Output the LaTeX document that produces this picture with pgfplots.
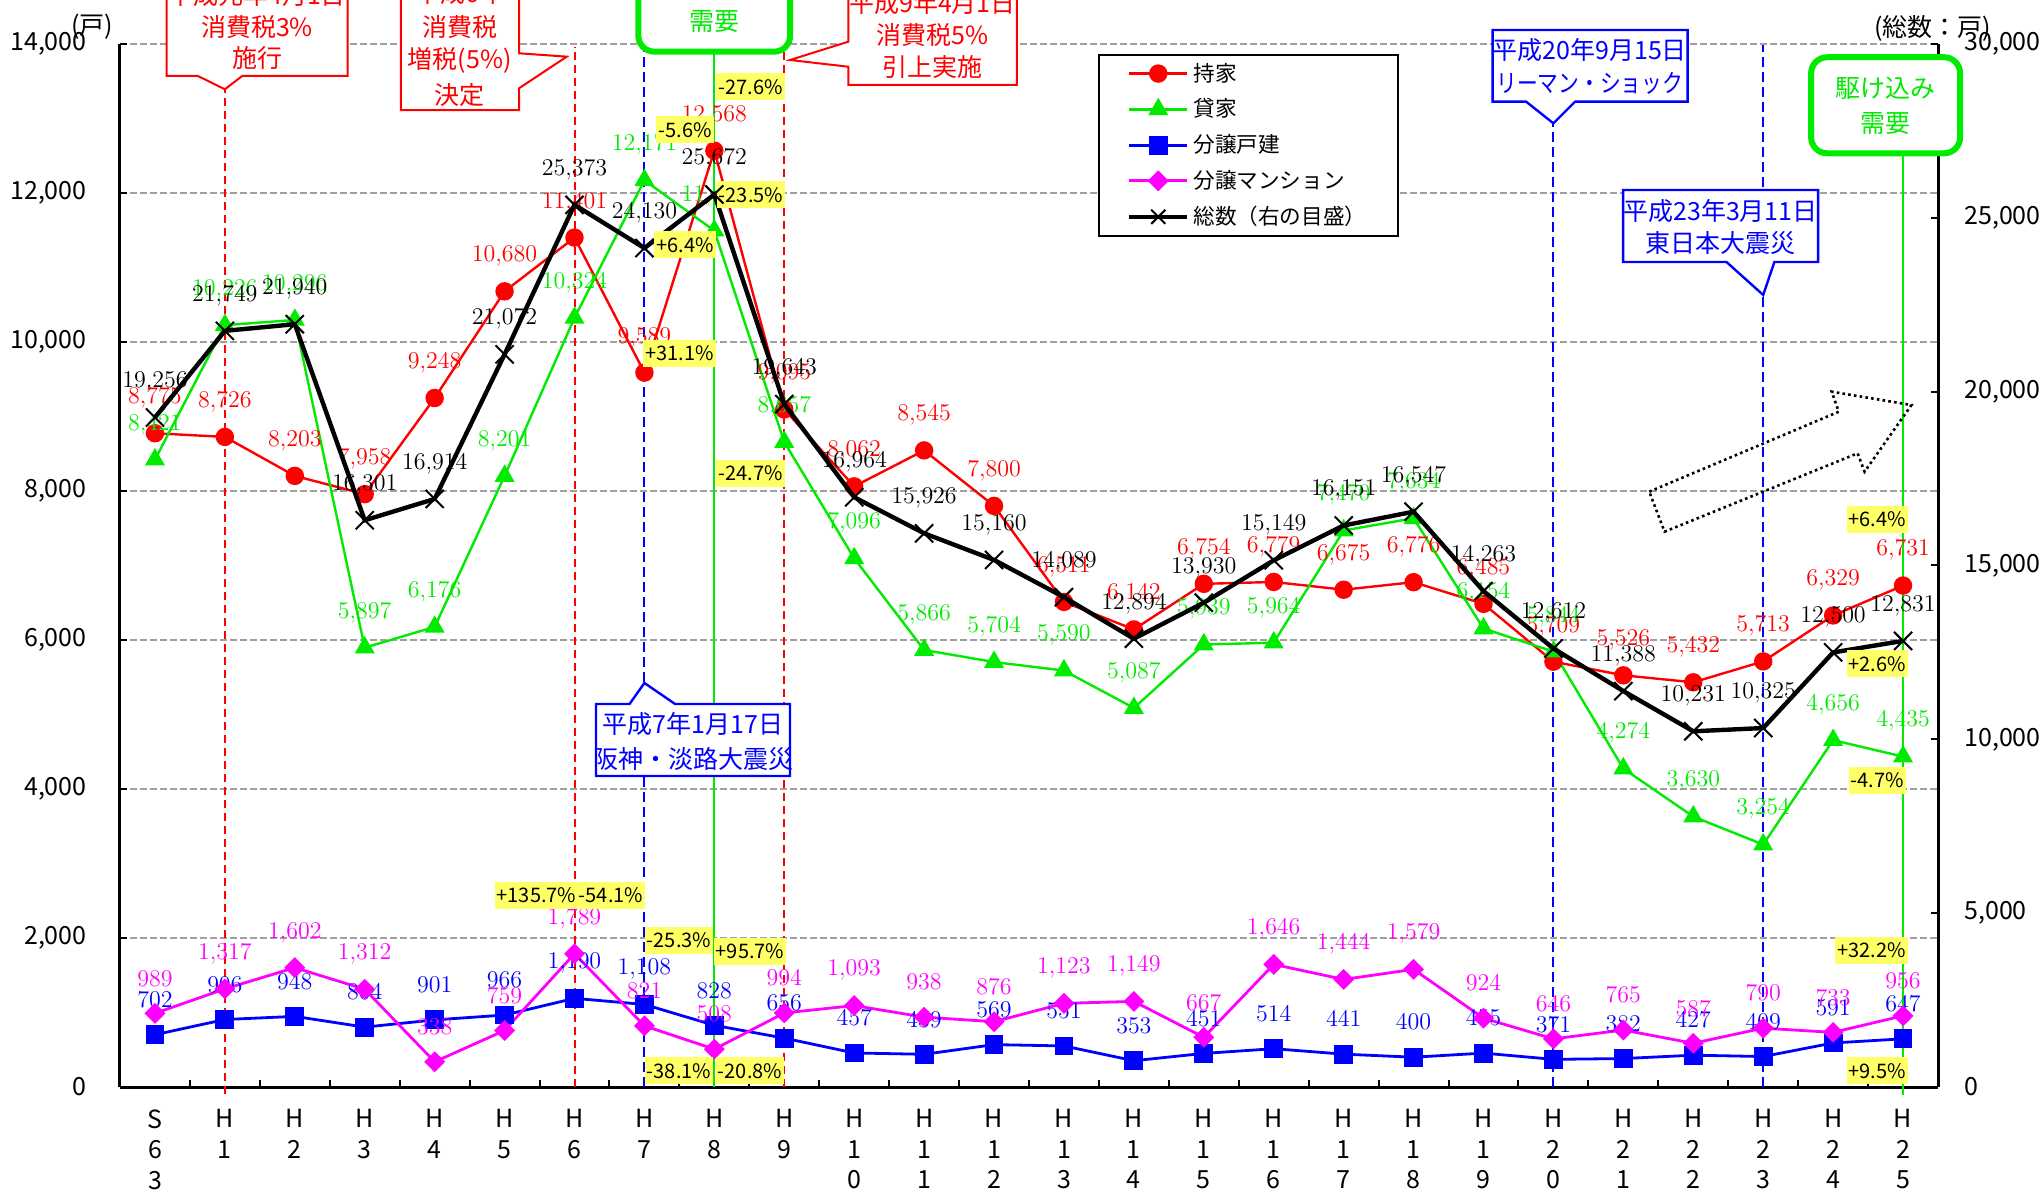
\documentclass[border=0pt]{standalone}
\usepackage{fontspec}
\usepackage{graphicx}
\usepackage{pgfplots}
\pgfplotsset{compat=1.18}
\newfontfamily\jp{Noto Sans CJK JP}

\definecolor{cred}{RGB}{255,0,0}
\definecolor{cgreen}{RGB}{0,235,0}
\definecolor{cblue}{RGB}{0,0,255}
\definecolor{cmag}{RGB}{255,0,255}
\definecolor{cgrid}{RGB}{160,160,160}
\definecolor{cyel}{RGB}{255,255,102}

\newcommand\tickfont{\jp\fontsize{12.5}{15.3}\selectfont}
\newcommand\callfont{\jp\fontsize{12.5}{12.5}\selectfont}
\newcommand\legfont{\jp\fontsize{10.8}{10.8}\selectfont}
\newcommand\yelfont{\jp\fontsize{10}{10}\selectfont}
\newcommand\lblfont{\fontsize{13}{13}\selectfont}

% data, S63 = 0, H1 = 1, ... H25 = 25
\pgfplotstableread{
x own rent house mansion total
0  8775  8421  702  989 19256
1  8726 10226  906 1317 21749
2  8203 10296  948 1602 21940
3  7958  5897  804 1312 16301
4  9248  6176  901  338 16914
5 10680  8201  966  759 21072
6 11401 10324 1190 1789 25373
7  9589 12171 1108  821 24130
8 12568 11494  828  508 25672
9  9095  8657  656  994 19643
10 8062  7096  457 1093 16964
11 8545  5866  439  938 15926
12 7800  5704  569  876 15160
13 6511  5590  551 1123 14089
14 6142  5087  353 1149 12894
15 6754  5939  451  667 13930
16 6779  5964  514 1646 15149
17 6675  7470  441 1444 16151
18 6776  7634  400 1579 16547
19 6485  6154  455  924 14263
20 5709  5844  371  646 12612
21 5526  4274  382  765 11388
22 5432  3630  427  587 10231
23 5713  3254  409  790 10325
24 6329  4656  591  733 12500
25 6731  4435  647  956 12831
}\housing

\pgfplotsset{
  base/.style={
    width=909pt, height=521.5pt, scale only axis,
    at={(0,0)}, anchor=south west,
    xmin=-0.5, xmax=25.5, clip=false,
    tick align=inside, major tick length=3.5pt,
    axis line style={line width=1.5pt, black},
    every tick/.style={black, line width=1pt},
    scaled y ticks=false,
    tick label style={font=\tickfont},
    /pgf/number format/1000 sep={,},
    /pgf/number format/assume math mode=true,
  },
  lbl/.style={
    nodes near coords={\pgfmathprintnumber[assume math mode=false,fixed,precision=0,1000 sep={\mathord{,}}]{\pgfplotspointmeta}},
    point meta=y,
    every node near coord/.append style={font=\lblfont, text=#1, anchor=center, yshift=17.5pt, inner sep=0pt},
  },
}

\begin{document}
\begin{tikzpicture}
\begin{axis}[base,
  ymin=0, ymax=14000,
  ytick={0,2000,...,14000},
  ymajorgrids, grid style={cgrid, line width=1pt, dash pattern=on 3.5pt off 1.5pt},
  axis x line*=bottom, axis y line*=left,
  yticklabel style={anchor=east, inner sep=0pt, xshift=-16.5pt},
  xtick={0.5,1.5,...,24.5}, xticklabels={},
  extra x ticks={0,1,...,25},
  extra x tick labels={{S\\6\\3},{H\\1},{H\\2},{H\\3},{H\\4},{H\\5},{H\\6},{H\\7},{H\\8},{H\\9},
    {H\\1\\0},{H\\1\\1},{H\\1\\2},{H\\1\\3},{H\\1\\4},{H\\1\\5},{H\\1\\6},{H\\1\\7},{H\\1\\8},{H\\1\\9},
    {H\\2\\0},{H\\2\\1},{H\\2\\2},{H\\2\\3},{H\\2\\4},{H\\2\\5}},
  extra x tick style={major tick length=0pt},
  xticklabel style={align=center, anchor=north, inner sep=0pt, yshift=-11pt},
  legend style={at={(0.538,0.9904)}, anchor=north west, draw=black, line width=1pt,
    fill=white, inner xsep=14pt, inner ysep=2pt, row sep=3.3pt, font=\legfont, cells={anchor=west}},
  legend image code/.code={\draw[mark repeat=2,mark phase=2,#1] plot coordinates {(0pt,0pt) (14.5pt,0pt) (29pt,0pt)};},
]
\addplot[cred, line width=1.2pt, mark=*, mark size=4pt, mark options={solid,fill=cred}, lbl=cred]
  table[x=x, y=own] {\housing};
\addplot[cgreen, line width=1.2pt, mark=triangle*, mark size=4.6pt, mark options={solid,fill=cgreen}, lbl=cgreen]
  table[x=x, y=rent] {\housing};
\addplot[cblue, line width=1.4pt, mark=square*, mark size=4pt, mark options={solid,fill=cblue}, lbl=cblue]
  table[x=x, y=house] {\housing};
\addplot[cmag, line width=1.4pt, mark=square*, mark size=3pt, mark options={solid,fill=cmag,rotate=45}, lbl=cmag]
  table[x=x, y=mansion] {\housing};
\addlegendimage{black, line width=2.2pt, mark=x, mark size=5pt, mark options={line width=1pt}}
\legend{持家,貸家,分譲戸建,分譲マンション,総数（右の目盛）}

% event lines
\draw[cred, line width=1pt, dash pattern=on 4pt off 2.5pt] (axis cs:1,-90) -- (axis cs:1,13392);
\draw[cred, line width=1pt, dash pattern=on 4pt off 2.5pt] (axis cs:6,0) -- (axis cs:6,13964);
\draw[cblue, line width=1pt, dash pattern=on 5pt off 2.5pt] (axis cs:7,0) -- (axis cs:7,13964);
\draw[cgreen, line width=1pt] (axis cs:8,0) -- (axis cs:8,13897);
\draw[cred, line width=1pt, dash pattern=on 4pt off 2.5pt] (axis cs:9,0) -- (axis cs:9,13964);
\draw[cblue, line width=1pt, dash pattern=on 5pt off 2.5pt] (axis cs:20,0) -- (axis cs:20,12935);
\draw[cblue, line width=1pt, dash pattern=on 5pt off 2.5pt] (axis cs:23,0) -- (axis cs:23,13987);
\draw[cgreen, line width=1pt] (axis cs:25,-107) -- (axis cs:25,12533);

% callouts
\draw[cred, line width=1pt, fill=white] (axis cs:0.168,15500) -- (axis cs:2.755,15500) -- (axis cs:2.755,13571)
  -- (axis cs:1.248,13571) -- (axis cs:1,13392) -- (axis cs:0.613,13571) -- (axis cs:0.168,13571) -- cycle;
\node[font=\callfont, text=cred] at (axis cs:1.46,14658) {平成元年4月1日};
\node[font=\callfont, text=cred] at (axis cs:1.46,14233) {消費税3\%};
\node[font=\callfont, text=cred] at (axis cs:1.46,13808) {施行};

\draw[cred, line width=1pt, fill=white] (axis cs:3.517,15500) -- (axis cs:5.208,15500) -- (axis cs:5.208,13875)
  -- (axis cs:5.889,13830) -- (axis cs:5.208,13406) -- (axis cs:5.208,13114) -- (axis cs:3.517,13114) -- cycle;
\node[font=\callfont, text=cred] at (axis cs:4.36,14680) {平成6年};
\node[font=\callfont, text=cred] at (axis cs:4.36,14233) {消費税};
\node[font=\callfont, text=cred] at (axis cs:4.36,13786) {増税(5\%)};
\node[font=\callfont, text=cred] at (axis cs:4.36,13316) {決定};

\draw[cgreen, line width=3pt, fill=white, rounded corners=8pt] (axis cs:6.913,13897) rectangle (axis cs:9.084,15600);
\node[font=\callfont, text=cgreen] at (axis cs:8,14748) {駆け込み};
\node[font=\callfont, text=cgreen] at (axis cs:8,14300) {需要};

\draw[cred, line width=1pt, fill=white] (axis cs:9.916,15500) -- (axis cs:12.325,15500) -- (axis cs:12.325,13450)
  -- (axis cs:9.916,13450) -- (axis cs:9.916,13695) -- (axis cs:9.082,13785) -- (axis cs:9.916,14031) -- cycle;
\node[font=\callfont, text=cred] at (axis cs:11.12,14546) {平成9年4月1日};
\node[font=\callfont, text=cred] at (axis cs:11.12,14121) {消費税5\%};
\node[font=\callfont, text=cred] at (axis cs:11.12,13695) {引上実施};

\draw[cblue, line width=1.2pt, fill=white] (axis cs:6.308,4175) -- (axis cs:9.082,4175) -- (axis cs:9.082,5141)
  -- (axis cs:7.438,5141) -- (axis cs:7,5423) -- (axis cs:6.787,5141) -- (axis cs:6.308,5141) -- cycle;
\node[font=\callfont, text=cblue] at (axis cs:7.695,4873) {平成7年1月17日};
\node[font=\callfont, text=cblue] at (axis cs:7.695,4403) {阪神・淡路大震災};

\draw[cblue, line width=1.2pt, fill=white] (axis cs:19.13,14188) -- (axis cs:21.92,14188) -- (axis cs:21.92,13226)
  -- (axis cs:20.31,13226) -- (axis cs:20,12935) -- (axis cs:19.61,13226) -- (axis cs:19.13,13226) -- cycle;
\node[font=\callfont, text=cblue] at (axis cs:20.52,13920) {平成20年9月15日};
\node[font=\callfont, text=cblue] at (axis cs:20.52,13473) {\scalebox{0.83}[1]{リーマン・ショック}};

\draw[cblue, line width=1.2pt, fill=white] (axis cs:20.996,12040) -- (axis cs:23.785,12040) -- (axis cs:23.785,11074)
  -- (axis cs:23.16,11074) -- (axis cs:23,10631) -- (axis cs:22.475,11074) -- (axis cs:20.996,11074) -- cycle;
\node[font=\callfont, text=cblue] at (axis cs:22.39,11763) {平成23年3月11日};
\node[font=\callfont, text=cblue] at (axis cs:22.39,11325) {東日本大震災};

% dotted arrow
\draw[black, line width=1.3pt, dash pattern=on 1.3pt off 1.6pt] (axis cs:21.37,7991) -- (axis cs:24.08,9064)
  -- (axis cs:23.98,9333) -- (axis cs:25.12,9154) -- (axis cs:24.45,8259) -- (axis cs:24.35,8506)
  -- (axis cs:21.59,7454) -- cycle;

\node[font=\callfont] at (axis description cs:-0.0154,1.0163) {(戸)};
\end{axis}

\begin{axis}[base,
  ymin=0, ymax=30000,
  ytick={0,5000,...,30000},
  axis x line=none, axis y line*=right,
  yticklabel style={anchor=west, inner sep=0pt, xshift=13pt},
]
\addplot[black, line width=2.2pt, mark=x, mark size=6.4pt, mark options={solid,line width=1pt}, lbl=black]
  table[x=x, y=total] {\housing};

% rate labels
\begin{scope}[every node/.style={fill=cyel, font=\yelfont, inner xsep=1pt, inner ysep=0pt, minimum height=13.5pt}]
\node at (axis cs:8.517,28772) {-27.6\%};
\node at (axis cs:7.581,27527) {-5.6\%};
\node at (axis cs:8.524,25657) {-23.5\%};
\node at (axis cs:7.581,24219) {+6.4\%};
\node at (axis cs:7.502,21098) {+31.1\%};
\node at (axis cs:8.517,17646) {-24.7\%};
\node at (axis cs:5.457,5509) {+135.7\%};
\node at (axis cs:6.522,5509) {-54.1\%};
\node at (axis cs:7.495,4214) {-25.3\%};
\node at (axis cs:8.51,3898) {+95.7\%};
\node at (axis cs:7.495,469) {-38.1\%};
\node at (axis cs:8.51,469) {-20.8\%};
\node at (axis cs:24.63,16324) {+6.4\%};
\node at (axis cs:24.63,12167) {+2.6\%};
\node at (axis cs:24.63,8830) {-4.7\%};
\node at (axis cs:24.55,3926) {+32.2\%};
\node at (axis cs:24.63,469) {+9.5\%};
\end{scope}

% callout over the right axis
\draw[cgreen, line width=3pt, fill=white, rounded corners=8pt] (axis cs:23.685,29619) rectangle (axis cs:25.816,26856);
\node[font=\callfont, text=cgreen] at (axis cs:24.75,28727) {駆け込み};
\node[font=\callfont, text=cgreen] at (axis cs:24.75,27720) {需要};

\node[font=\callfont] at (axis description cs:0.997,1.0153) {(総数：戸)};
\end{axis}
\pgfresetboundingbox
\path (-60pt,-51pt) rectangle (962pt,543.5pt);
\end{tikzpicture}
\end{document}
